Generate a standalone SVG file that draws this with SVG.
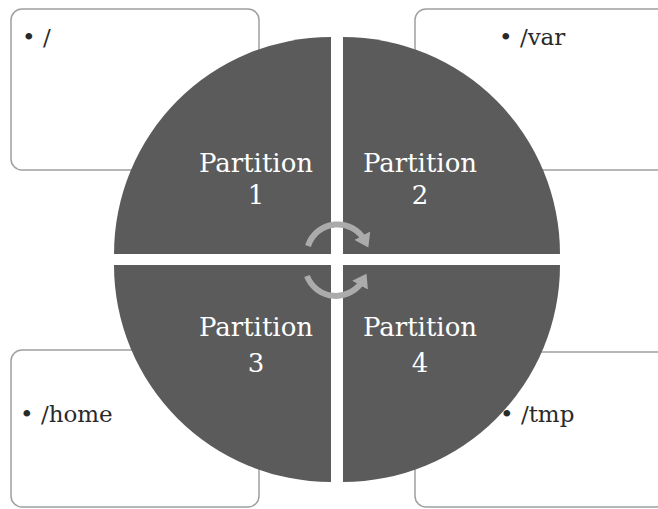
<svg xmlns="http://www.w3.org/2000/svg" width="658" height="509" viewBox="0 0 658 509">
<style>
.box{fill:#ffffff;stroke:#a0a0a0;stroke-width:1.5}
.pie{fill:#5b5b5b}
.pt{font-family:"DejaVu Serif","Liberation Serif",serif;font-size:26px;fill:#ffffff;text-anchor:middle}
.bt{font-family:"DejaVu Serif","Liberation Serif",serif;font-size:23px;fill:#2a2a2a}
.arc{fill:none;stroke:#ababab;stroke-width:6}
</style>
<defs>
<marker id="ah" markerWidth="3" markerHeight="3" refX="1" refY="1.5" orient="auto" markerUnits="strokeWidth">
<path d="M0,0 L2.2,1.5 L0,3 Z" fill="#ababab"/>
</marker>
</defs>
<rect width="658" height="509" fill="#ffffff"/>
<g id="box-tl"><rect class="box" x="11" y="9" width="248" height="161" rx="11"/><text class="bt" x="22" y="45">• /</text></g>
<g id="box-tr"><rect class="box" x="415" y="9" width="256" height="161" rx="11"/><text class="bt" x="499" y="45">• /var</text></g>
<g id="box-bl"><rect class="box" x="11" y="350" width="248" height="157" rx="11"/><text class="bt" x="20" y="422">• /home</text></g>
<g id="box-br"><rect class="box" x="415" y="352" width="256" height="155" rx="11"/><text class="bt" x="500" y="422">• /tmp</text></g>
<g id="p1"><path class="pie" d="M331,254 L114,254 A217,217 0 0 1 331,37 Z"/><text class="pt" x="256" y="172">Partition</text><text class="pt" x="256" y="204">1</text></g>
<g id="p2"><path class="pie" d="M343,254 L343,37 A217,217 0 0 1 560,254 Z"/><text class="pt" x="420" y="172">Partition</text><text class="pt" x="420" y="204">2</text></g>
<g id="p3"><path class="pie" d="M331,265 L331,482 A217,217 0 0 1 114,265 Z"/><text class="pt" x="256" y="336">Partition</text><text class="pt" x="256" y="372">3</text></g>
<g id="p4"><path class="pie" d="M343,265 L560,265 A217,217 0 0 1 343,482 Z"/><text class="pt" x="420" y="336">Partition</text><text class="pt" x="420" y="372">4</text></g>
<g id="connectors">
<path class="arc" d="M308,246 A31,31 0 0 1 365,241" marker-end="url(#ah)"/>
<path class="arc" d="M307,276 A31,31 0 0 0 363,280" marker-end="url(#ah)"/>
</g>
</svg>
